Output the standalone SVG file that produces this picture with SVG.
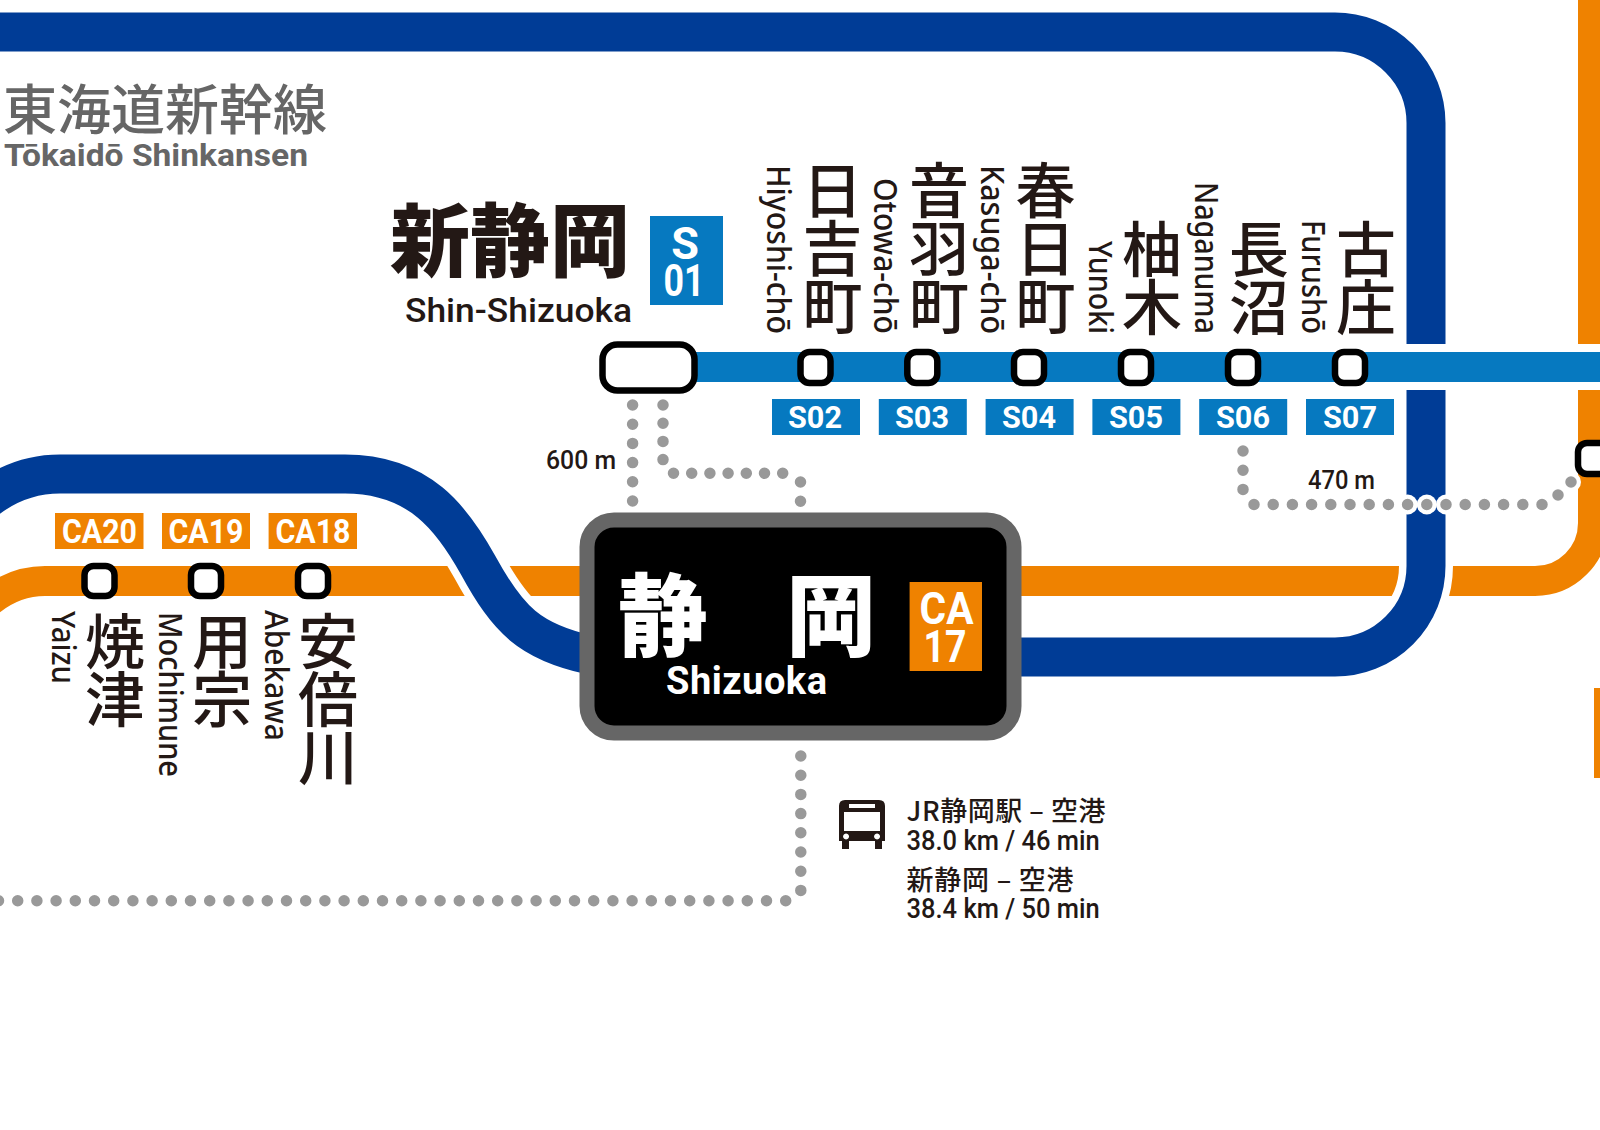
<svg xmlns="http://www.w3.org/2000/svg" width="1600" height="1130" viewBox="0 0 1600 1130">
<style>
.l{fill:none;stroke-linecap:butt}
.blue{stroke:#003c96;stroke-width:39}
.case{stroke:#fff;stroke-width:54}
.or{stroke:#ef8200;stroke-width:30}
.sl{stroke:#0679c0;stroke-width:30}
.dot{fill:none;stroke:#999;stroke-width:11.5;stroke-linecap:round;stroke-dasharray:0 19.2}
.dn{stroke-dasharray:0 18.2}
.st{fill:#fff;stroke:#000;stroke-width:6.5}
text{font-family:"Noto Sans CJK JP","Noto Sans",sans-serif;fill:#231815}
.v{writing-mode:vertical-rl;font-size:60px;font-weight:500;letter-spacing:-2px}
.la{font-family:"Noto Sans",sans-serif;font-size:33px;font-weight:500}
.din{font-family:Roboto,sans-serif;font-weight:500}
.cd{font-family:Roboto,sans-serif;font-weight:700;fill:#fff;text-anchor:middle}
.sb{fill:#0679c0}.ob{fill:#ef8200}
</style>
<rect width="1600" height="1130" fill="#fff"/>
<g id="connectors">
<path class="l or" d="M-10 601Q15 581 45 581H1535A58 58 0 0 0 1593 523V0"/>
<rect x="1594" y="688" width="6" height="90" fill="#ef8200"/>
<path class="l case" d="M-20 505Q15 474 60 474H345C420 474 453 520 478 565C508 620 530 642 590 655M1000 657H1335A91 91 0 0 0 1426 566V0"/>
<path class="l blue" d="M-20 505Q15 474 60 474H345C420 474 453 520 478 565C508 620 530 642 590 655"/>
<path class="l blue" d="M0 32H1335A91 91 0 0 1 1426 123V566A91 91 0 0 1 1335 657H1000"/>
<path class="l" stroke="#fff" stroke-width="46" d="M1390 367H1600"/>
<path class="l sl" d="M690 367H1600"/>
<g fill="#fff"><circle cx="1407.6" cy="504.5" r="10"/><circle cx="1426.8" cy="504.5" r="10"/><circle cx="1446" cy="504.5" r="10"/><circle cx="1571" cy="482" r="10"/></g>
<path class="dot" d="M632.6 405V505"/>
<path class="dot dn" d="M663 405V460"/>
<path class="dot dn" d="M673.5 473.3H785"/>
<path class="dot" d="M800.5 482V502"/>
<path class="dot" d="M1243 451V490"/>
<path class="dot" d="M1254 504.5H1545"/>
<path class="dot" d="M1558 495V495.1"/>
<path class="dot" d="M1571 482V482.1"/>
<path class="dot" d="M800.8 756V891"/>
<path class="dot" d="M785.7 900.7H-10"/>
</g>
<g id="title"><text x="3" y="129.5" font-size="54" font-weight="500" style="fill:#666">東海道新幹線</text>
<text class="din" x="4" y="166" font-size="31" textLength="304" lengthAdjust="spacingAndGlyphs" style="fill:#666;font-weight:700">Tōkaidō Shinkansen</text></g>
<g id="S01"><rect class="st" x="602.5" y="344.5" width="92" height="46" rx="15"/>
<text x="390" y="269.5" font-size="80" font-weight="900">新静岡</text>
<text class="din" x="405" y="322" font-size="33" textLength="227" lengthAdjust="spacingAndGlyphs">Shin-Shizuoka</text>
<rect class="sb" x="650" y="216" width="73" height="89"/>
<text class="cd" x="685" y="259" font-size="45">S</text><text class="cd" x="684" y="296" font-size="45" textLength="41" lengthAdjust="spacingAndGlyphs">01</text></g>
<g id="S02"><rect class="st" x="800.5" y="352" width="30" height="31" rx="9"/><rect class="sb" x="772" y="399" width="88" height="36"/><text class="cd" x="815" y="428" font-size="32" textLength="54" lengthAdjust="spacingAndGlyphs">S02</text><text class="v" x="832.500" y="160">日吉町</text><text class="la" transform="translate(767 165) rotate(90)" textLength="169" lengthAdjust="spacingAndGlyphs">Hiyoshi-chō</text></g>
<g id="S03"><rect class="st" x="907.3" y="352" width="30" height="31" rx="9"/><rect class="sb" x="878.8" y="399" width="88" height="36"/><text class="cd" x="922" y="428" font-size="32" textLength="54" lengthAdjust="spacingAndGlyphs">S03</text><text class="v" x="939" y="160">音羽町</text><text class="la" transform="translate(874 178) rotate(90)" textLength="156" lengthAdjust="spacingAndGlyphs">Otowa-chō</text></g>
<g id="S04"><rect class="st" x="1014" y="352" width="30" height="31" rx="9"/><rect class="sb" x="985.6" y="399" width="88" height="36"/><text class="cd" x="1029" y="428" font-size="32" textLength="54" lengthAdjust="spacingAndGlyphs">S04</text><text class="v" x="1045.500" y="160">春日町</text><text class="la" transform="translate(981 165) rotate(90)" textLength="169" lengthAdjust="spacingAndGlyphs">Kasuga-chō</text></g>
<g id="S05"><rect class="st" x="1121" y="352" width="30" height="31" rx="9"/><rect class="sb" x="1092.4" y="399" width="88" height="36"/><text class="cd" x="1136" y="428" font-size="32" textLength="54" lengthAdjust="spacingAndGlyphs">S05</text><text class="v" x="1152" y="219">柚木</text><text class="la" transform="translate(1089 241) rotate(90)" textLength="93" lengthAdjust="spacingAndGlyphs">Yunoki</text></g>
<g id="S06"><rect class="st" x="1228" y="352" width="30" height="31" rx="9"/><rect class="sb" x="1199.2" y="399" width="88" height="36"/><text class="cd" x="1243" y="428" font-size="32" textLength="54" lengthAdjust="spacingAndGlyphs">S06</text><text class="v" x="1259" y="219">長沼</text><text class="la" transform="translate(1195 182) rotate(90)" textLength="152" lengthAdjust="spacingAndGlyphs">Naganuma</text></g>
<g id="S07"><rect class="st" x="1335" y="352" width="30" height="31" rx="9"/><rect class="sb" x="1306" y="399" width="88" height="36"/><text class="cd" x="1350" y="428" font-size="32" textLength="54" lengthAdjust="spacingAndGlyphs">S07</text><text class="v" x="1366" y="219">古庄</text><text class="la" transform="translate(1302 220) rotate(90)" textLength="114" lengthAdjust="spacingAndGlyphs">Furushō</text></g>
<g id="east"><rect class="st" x="1578" y="443" width="30" height="31" rx="9"/></g>
<g id="CA20"><rect class="st" x="84.5" y="566" width="30" height="30" rx="9"/><rect class="ob" x="55" y="513" width="88.5" height="36"/><text class="cd" x="99.5" y="542.5" font-size="33" textLength="75" lengthAdjust="spacingAndGlyphs">CA20</text><text class="v" x="115" y="611">焼津</text><text class="la" transform="translate(52 611) rotate(90)" textLength="73" lengthAdjust="spacingAndGlyphs">Yaizu</text></g>
<g id="CA19"><rect class="st" x="191" y="566" width="30" height="30" rx="9"/><rect class="ob" x="162" y="513" width="88" height="36"/><text class="cd" x="206" y="542.5" font-size="33" textLength="75" lengthAdjust="spacingAndGlyphs">CA19</text><text class="v" x="222" y="611">用宗</text><text class="la" transform="translate(159 612) rotate(90)" textLength="165" lengthAdjust="spacingAndGlyphs">Mochimune</text></g>
<g id="CA18"><rect class="st" x="298" y="566" width="30" height="30" rx="9"/><rect class="ob" x="268.6" y="513" width="88.4" height="36"/><text class="cd" x="313" y="542.5" font-size="33" textLength="75" lengthAdjust="spacingAndGlyphs">CA18</text><text class="v" x="328" y="611">安倍川</text><text class="la" transform="translate(265 610) rotate(90)" textLength="131" lengthAdjust="spacingAndGlyphs">Abekawa</text></g>
<g id="CA17"><rect x="587" y="520" width="427" height="213" rx="27" fill="#000" stroke="#666" stroke-width="15"/>
<text x="618" y="649" font-size="90" font-weight="900" style="fill:#fff">静</text><text x="786" y="649" font-size="90" font-weight="900" style="fill:#fff">岡</text>
<text class="din" x="666" y="694" font-size="38" textLength="161" lengthAdjust="spacing" style="fill:#fff;font-weight:700">Shizuoka</text>
<rect class="ob" x="909.6" y="582" width="72.400" height="89"/>
<text class="cd" x="946.500" y="624" font-size="45" textLength="54" lengthAdjust="spacingAndGlyphs">CA</text><text class="cd" x="945" y="661.500" font-size="45" textLength="43" lengthAdjust="spacingAndGlyphs">17</text></g>
<g id="walk-labels"><text class="din" x="546" y="469" font-size="26" textLength="70" lengthAdjust="spacingAndGlyphs">600 m</text><text class="din" x="1308" y="489" font-size="26" textLength="67" lengthAdjust="spacingAndGlyphs">470 m</text></g>
<g id="bus">
<path fill="#231815" fill-rule="evenodd" d="M845 800H879Q885 800 885 806V841H882V849H875V841H849V849H842V841H839V806Q839 800 845 800ZM849 804V808H875V804ZM844 812V831H880V812ZM846 833.500a3 3 0 1 0 .1 0ZM877 833.500a3 3 0 1 0 .1 0Z"/>
<text x="906.600" y="821" font-size="27" font-weight="500" textLength="199" lengthAdjust="spacing">JR静岡駅 – 空港</text>
<text class="din" x="906.600" y="850" font-size="27" textLength="193" lengthAdjust="spacingAndGlyphs">38.0 km / 46 min</text>
<text x="906.600" y="890" font-size="27" font-weight="500" textLength="167" lengthAdjust="spacing">新静岡 – 空港</text>
<text class="din" x="906.600" y="918" font-size="27" textLength="193" lengthAdjust="spacingAndGlyphs">38.4 km / 50 min</text>
</g>
</svg>
